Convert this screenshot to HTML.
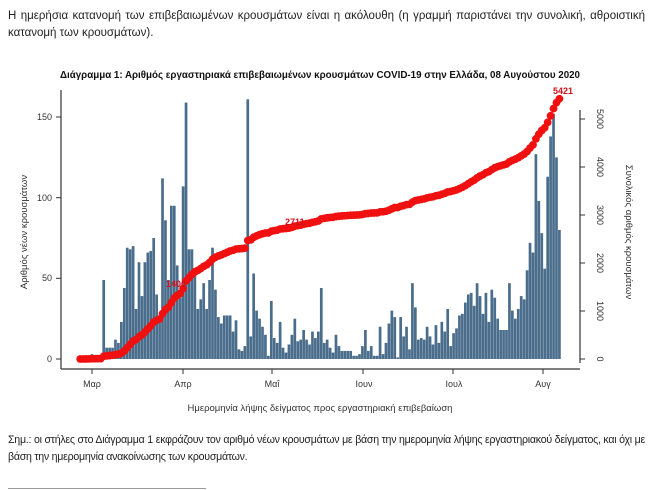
<!DOCTYPE html>
<html><head><meta charset="utf-8">
<style>
body{margin:0;width:656px;height:490px;background:#fff;position:relative;overflow:hidden;font-family:"Liberation Sans","DejaVu Sans",sans-serif;color:#222}
.p{position:absolute;left:8px;width:637px;font-size:11.5px;line-height:17px;text-align:justify;text-align-last:left}
svg{position:absolute;left:0;top:0}
</style></head><body>
<div class="p" style="top:8px">Η ημερήσια κατανομή των επιβεβαιωμένων κρουσμάτων είναι η ακόλουθη (η γραμμή παριστάνει την συνολική, αθροιστική κατανομή των κρουσμάτων).</div>
<div class="p" style="top:432px;font-size:10.6px;letter-spacing:-0.25px">Σημ.: οι στήλες στο Διάγραμμα 1 εκφράζουν τον αριθμό νέων κρουσμάτων με βάση την ημερομηνία λήψης εργαστηριακού δείγματος, και όχι με βάση την ημερομηνία ανακοίνωσης των κρουσμάτων.</div>
<div style="position:absolute;left:8px;top:488px;width:198px;height:1px;background:#999"></div>
<svg id="s" width="656" height="490" xmlns="http://www.w3.org/2000/svg" font-family="Liberation Sans, sans-serif">
<text x="60" y="78" textLength="520" lengthAdjust="spacingAndGlyphs" font-size="10.5" font-weight="bold" fill="#111">Διάγραμμα 1: Αριθμός εργαστηριακά επιβεβαιωμένων κρουσμάτων COVID-19 στην Ελλάδα, 08 Αυγούστου 2020</text>
<g id="bars" fill="#4a6d8c"></g>
<g id="line" fill="#f01010"></g>
<line x1="61" y1="90" x2="61" y2="369" stroke="#333" stroke-width="1.2"/>
<line x1="61" y1="369" x2="580" y2="369" stroke="#333" stroke-width="1.2"/>
<line x1="580" y1="110" x2="580" y2="363" stroke="#333" stroke-width="1.2"/>
<g font-size="9" fill="#333" text-anchor="end">
<line x1="56" y1="359" x2="61" y2="359" stroke="#333"/><text x="52" y="362">0</text>
<line x1="56" y1="278.3" x2="61" y2="278.3" stroke="#333"/><text x="52" y="281">50</text>
<line x1="56" y1="197.7" x2="61" y2="197.7" stroke="#333"/><text x="52" y="201">100</text>
<line x1="56" y1="117" x2="61" y2="117" stroke="#333"/><text x="52" y="120">150</text>
</g>
<g font-size="9" fill="#333" text-anchor="middle" id="rt"></g>
<g font-size="9" fill="#333" text-anchor="middle">
<line x1="92" y1="369" x2="92" y2="374" stroke="#333"/><text x="92" y="387">Μαρ</text>
<line x1="183" y1="369" x2="183" y2="374" stroke="#333"/><text x="183" y="387">Απρ</text>
<line x1="272" y1="369" x2="272" y2="374" stroke="#333"/><text x="272" y="387">Μαΐ</text>
<line x1="363" y1="369" x2="363" y2="374" stroke="#333"/><text x="364" y="387">Ιουν</text>
<line x1="453" y1="369" x2="453" y2="374" stroke="#333"/><text x="454" y="387">Ιουλ</text>
<line x1="543" y1="369" x2="543" y2="374" stroke="#333"/><text x="543" y="387">Αυγ</text>
<text x="320" y="411" font-size="9.5">Ημερομηνία λήψης δείγματος προς εργαστηριακή επιβεβαίωση</text>
</g>
<text transform="translate(27,232) rotate(-90)" font-size="9.5" fill="#333" text-anchor="middle">Αριθμός νέων κρουσμάτων</text>
<text transform="translate(626,232) rotate(90)" font-size="9.5" fill="#333" text-anchor="middle">Συνολικός αριθμός κρουσμάτων</text>
<g font-size="9" font-weight="bold" fill="#d0101a">
<text x="285" y="225">2711</text>
<text x="553" y="94">5421</text>
<text x="166" y="287">1400</text>
</g>
</svg>
<script>
var L=[0,0,1,1,3,2,0,2,49,7,7,7,12,10,23,44,69,68,70,31,60,39,60,66,67,75,40,26,112,86,49,95,95,58,38,107,159,68,68,55,31,37,47,31,49,69,43,26,22,27,27,27,17,24,6,5,8,161,14,53,30,25,20,15,2,36,13,10,23,7,4,9,15,25,11,12,18,12,9,17,13,17,44,10,12,7,4,15,8];
var R=[5,2,2,3,8,18,5,8,2,2,20,3,10,22,30,26,1,26,14,20,6,47,32,12,13,12,20,14,9,21,10,23,17,31,8,16,19,27,28,35,40,41,33,47,39,28,41,23,43,38,25,18,18,18,47,30,25,31,39,37,55,72,66,127,98,78,56,113,138,152,125,80];
var N=164,d=L.slice();while(d.length<N-R.length)d.push(5);d=d.concat(R).slice(0,N);
var ns="http://www.w3.org/2000/svg",b=document.getElementById('bars'),l=document.getElementById('line');
var tot=0;d.forEach(function(v){tot+=v});var c=0;
for(var i=0;i<N;i++){var x=80.2+i*2.94,h=d[i]*1.613;
var r=document.createElementNS(ns,'rect');r.setAttribute('x',x-1.35);r.setAttribute('y',359-h);r.setAttribute('width',2.7);r.setAttribute('height',h);b.appendChild(r);
c+=d[i];var cy=359-(c/tot*5421)*0.048;
var e=document.createElementNS(ns,'circle');e.setAttribute('cx',x);e.setAttribute('cy',cy);e.setAttribute('r',3.9);l.appendChild(e);}
var rt=document.getElementById('rt');
[0,1000,2000,3000,4000,5000].forEach(function(v){var y=359-v*0.048;
var t=document.createElementNS(ns,'line');t.setAttribute('x1',580);t.setAttribute('x2',585);t.setAttribute('y1',y);t.setAttribute('y2',y);t.setAttribute('stroke','#333');rt.appendChild(t);
var s=document.createElementNS(ns,'text');s.setAttribute('transform','translate(597,'+y+') rotate(90)');s.textContent=v;rt.appendChild(s);});
</script>
</body></html>
